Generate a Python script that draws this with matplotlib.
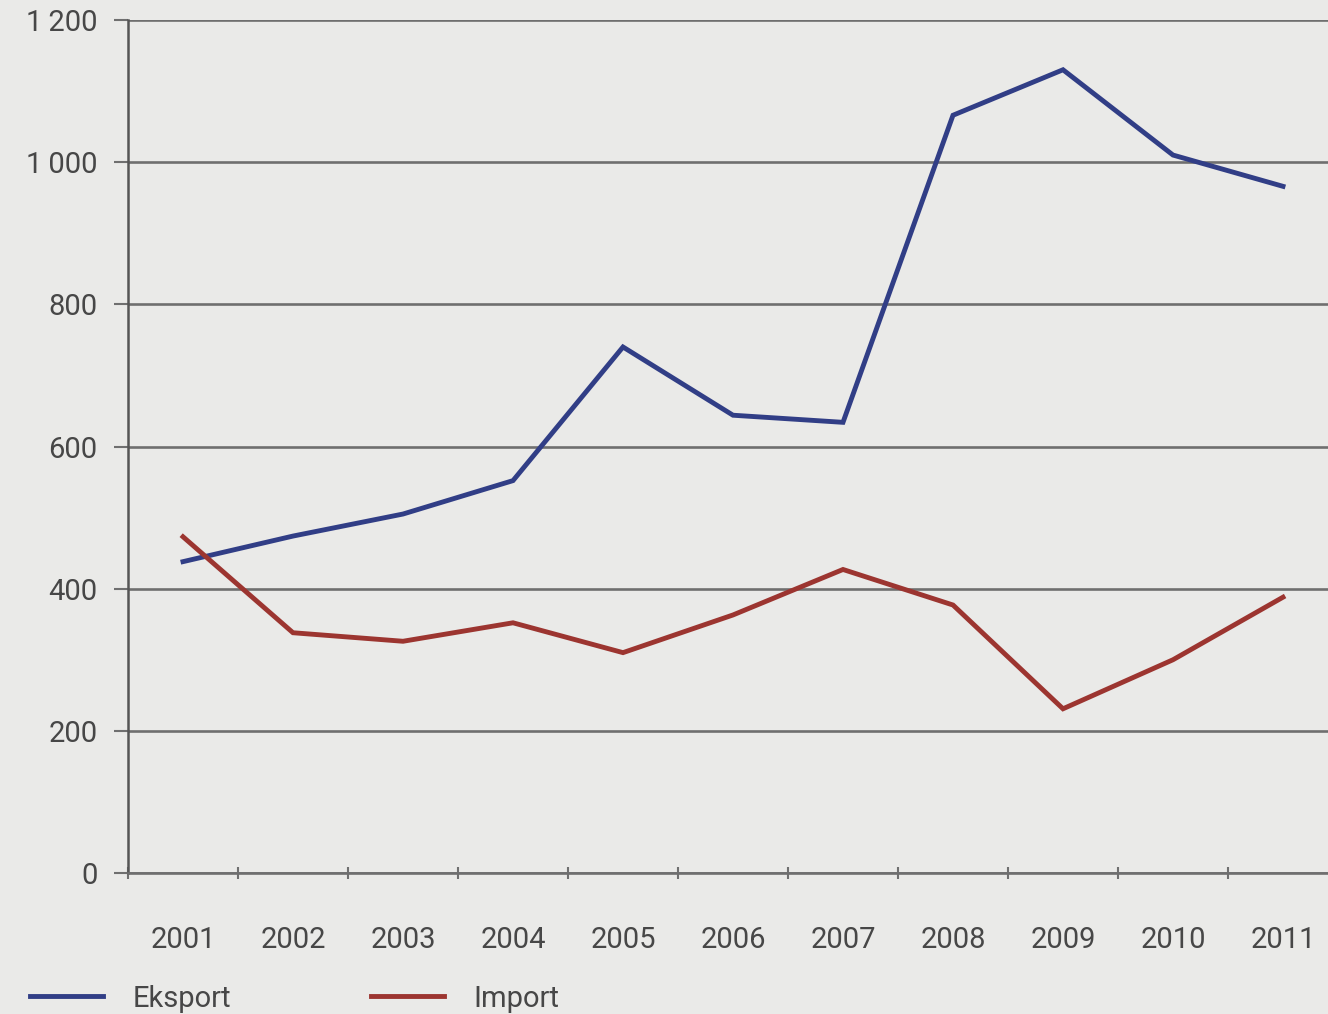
import matplotlib
matplotlib.use("Agg")
import matplotlib.pyplot as plt
import numpy as np

# values
years = ["2001", "2002", "2003", "2004", "2005", "2006",
         "2007", "2008", "2009", "2010", "2011"]
eksport = [438, 474, 505, 552, 740, 644, 634, 1066, 1130, 1010, 966]
import_ = [473, 338, 326, 352, 310, 363, 427, 377, 231, 300, 388]
y_ticks = [0, 200, 400, 600, 800, 1000, 1200]
y_labels = ["0", "200", "400", "600", "800", "1\u2009000", "1\u2009200"]

plt.rcParams['font.family'] = ['Roboto', 'DejaVu Sans']

bg = '#eaeae8'
grid_col = '#6f6f6f'
text_col = '#474747'

fig = plt.figure(figsize=(13.28, 10.14), dpi=100, facecolor=bg)
ax = fig.add_axes([128 / 1328, 141 / 1014, 1210 / 1328, 853 / 1014])
ax.set_facecolor(bg)

x = np.arange(len(years))
ax.plot(x, eksport, color='#313e86', lw=3.5, solid_joinstyle='miter', label='Eksport', zorder=3)
ax.plot(x, import_, color='#9c3530', lw=3.5, solid_joinstyle='miter', label='Import', zorder=3)

ax.set_xlim(-0.5, len(years) - 0.5)
ax.set_ylim(0, 1200)

ax.set_yticks(y_ticks)
ax.set_yticklabels(y_labels)
ax.yaxis.grid(True, color=grid_col, lw=1.9)
ax.set_axisbelow(True)
ax.tick_params(axis='y', length=10, width=1.5, color=grid_col, pad=12,
               labelsize=21, labelcolor=text_col)

ax.set_xticks(x)
ax.set_xticklabels(years)
ax.set_xticks(np.arange(-0.5, len(years)), minor=True)
ax.tick_params(axis='x', which='major', length=0, pad=38, labelsize=21, labelcolor=text_col)
ax.tick_params(axis='x', which='minor', length=9, width=1.5, color=grid_col, direction='inout')

for side in ['top', 'right']:
    ax.spines[side].set_visible(False)
ax.spines['left'].set_color('#555555')
ax.spines['left'].set_linewidth(1.8)
ax.spines['bottom'].set_color(grid_col)
ax.spines['bottom'].set_linewidth(1.9)

fig.legend(loc='lower left', bbox_to_anchor=(10 / 1328, -19 / 1014), ncol=2, frameon=False,
           fontsize=21, labelcolor=text_col, handlelength=2.5, handletextpad=1.0,
           columnspacing=4.8, borderpad=0.2)

fig.savefig('out.png', dpi=100, facecolor=bg)
